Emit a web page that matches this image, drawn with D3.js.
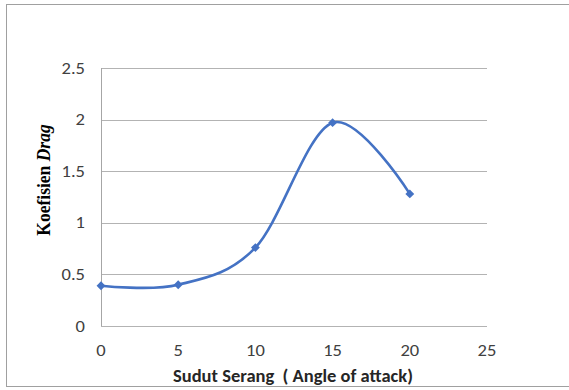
<!DOCTYPE html>
<html>
<head>
<meta charset="utf-8">
<script src="https://cdn.jsdelivr.net/npm/d3@7"></script>
<style>
  html, body { margin: 0; padding: 0; background: #fff; }
  svg { display: block; }
</style>
</head>
<body>
<svg id="chart" width="569" height="390"></svg>
<script>
// Drag coefficient versus angle of attack
const angles = [0, 5, 10, 15, 20];
const dragCoef = [0.39, 0.40, 0.76, 1.97, 1.28];
const xTicks = [0, 5, 10, 15, 20, 25];
const yTicks = [0, 0.5, 1, 1.5, 2, 2.5];

const svg = d3.select("#chart");
const plot = { left: 101, right: 487, top: 68, bottom: 326 };
const stretch = 1.09;   // text is drawn slightly wide

// outer chart frame
svg.append("rect")
  .attr("x", 6.5).attr("y", 4.5)
  .attr("width", 570).attr("height", 382)
  .attr("fill", "#fff").attr("stroke", "#a0a0a0").attr("stroke-width", 1);

const x = d3.scaleLinear().domain([0, 25]).range([plot.left, plot.right]);
const y = d3.scaleLinear().domain([0, 2.5]).range([plot.bottom, plot.top]);

// horizontal gridlines
svg.append("g")
  .selectAll("line")
  .data(yTicks)
  .join("line")
  .attr("x1", plot.left).attr("x2", plot.right)
  .attr("y1", d => Math.round(y(d)) + 0.5).attr("y2", d => Math.round(y(d)) + 0.5)
  .attr("stroke", "#b3b3b3").attr("stroke-width", 1);

// y axis line
svg.append("line")
  .attr("x1", plot.left + 0.5).attr("x2", plot.left + 0.5)
  .attr("y1", plot.top).attr("y2", plot.bottom)
  .attr("stroke", "#a6a6a6");

const tickFont = "Calibri, Carlito, 'Open Sans', sans-serif";

// y tick labels
svg.append("g")
  .selectAll("text")
  .data(yTicks)
  .join("text")
  .attr("transform", d => `translate(85,${y(d) + 5.5}) scale(${stretch},1)`)
  .attr("text-anchor", "end")
  .attr("font-family", tickFont).attr("font-size", 17).attr("fill", "#404040")
  .text(d => String(d));

// x tick labels
svg.append("g")
  .selectAll("text")
  .data(xTicks)
  .join("text")
  .attr("transform", d => `translate(${x(d)},356) scale(${stretch},1)`)
  .attr("text-anchor", "middle")
  .attr("font-family", tickFont).attr("font-size", 17).attr("fill", "#404040")
  .text(d => String(d));

// smoothed data line
const pts = angles.map((a, i) => [a, dragCoef[i]]);
const line = d3.line()
  .x(d => x(d[0])).y(d => y(d[1]))
  .curve(d3.curveCardinal.tension(0));
svg.append("path")
  .datum(pts)
  .attr("d", line)
  .attr("fill", "none")
  .attr("stroke", "#4472C4")
  .attr("stroke-width", 2.6);

// diamond markers
const diamond = d3.symbol().type(d3.symbolDiamond2).size(50);
svg.append("g")
  .selectAll("path")
  .data(pts)
  .join("path")
  .attr("transform", d => `translate(${x(d[0])},${y(d[1])})`)
  .attr("d", diamond)
  .attr("fill", "#4472C4");

// axis titles
svg.append("text")
  .attr("transform", `translate(293,381.5) scale(${stretch},1)`)
  .attr("text-anchor", "middle")
  .attr("font-family", tickFont).attr("font-weight", "bold")
  .attr("font-size", 17).attr("fill", "#262626")
  .attr("xml:space", "preserve")
  .text("Sudut Serang  ( Angle of attack)");

const yt = svg.append("text")
  .attr("transform", `translate(50,180) rotate(-90) scale(1,${stretch})`)
  .attr("text-anchor", "middle")
  .attr("font-family", "'Times New Roman', 'Liberation Serif', serif")
  .attr("font-weight", "bold").attr("font-size", 17.5).attr("fill", "#000");
yt.append("tspan").text("Koefisien ");
yt.append("tspan").attr("font-style", "italic").text("Drag");
</script>
</body>
</html>
